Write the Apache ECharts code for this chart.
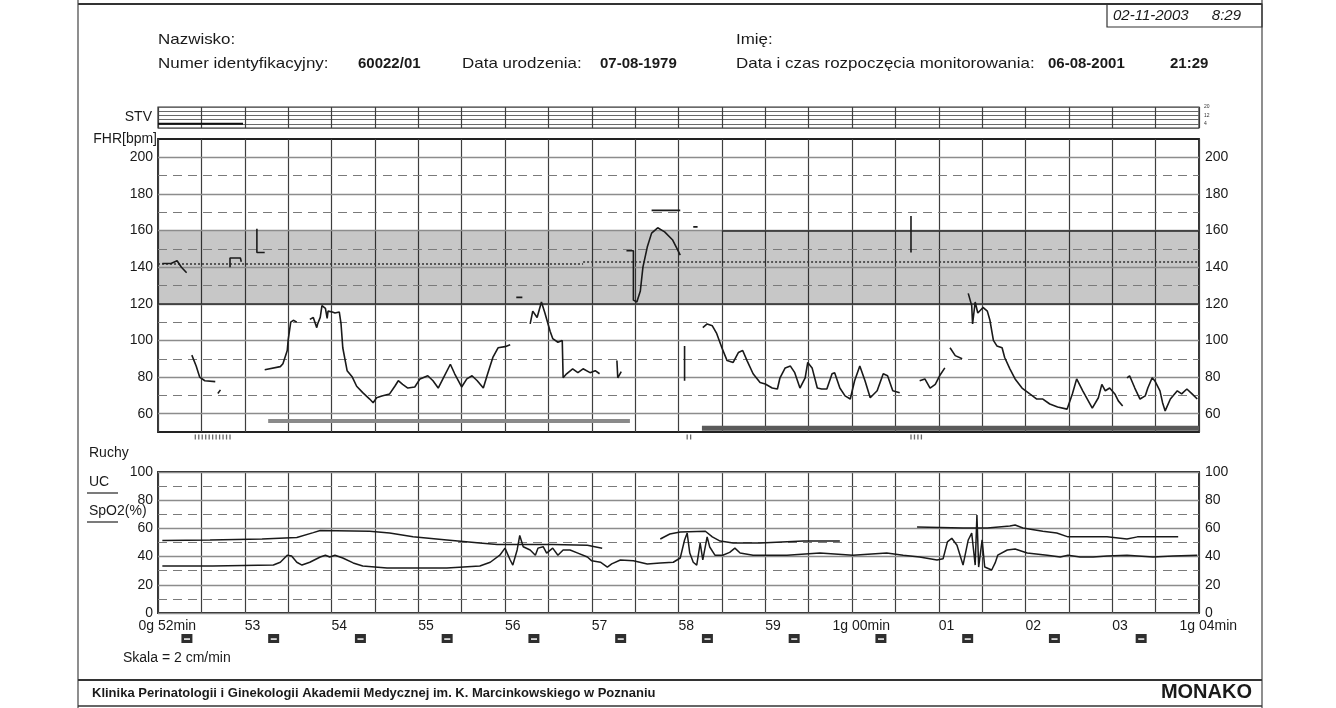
<!DOCTYPE html>
<html>
<head>
<meta charset="utf-8">
<script src="https://cdn.jsdelivr.net/npm/echarts@6/dist/echarts.min.js"></script>
<style>
  html, body { margin: 0; padding: 0; background: #ffffff; }
  #chart { width: 1336px; height: 708px; }
</style>
</head>
<body>
<div id="chart"></div>
<script>
// Time is measured in minutes from 0g 52min (recording window 12 min).
const minuteLabels = ['52min', '53', '54', '55', '56', '57', '58', '59', '00min', '01', '02', '03', '04min'];
const hourLabels   = ['0g ', '', '', '', '', '', '', '', '1g ', '', '', '', '1g '];

// FHR scale [bpm]
const fhrMajor = [60, 80, 100, 120, 140, 160, 180, 200];
const fhrMinor = [70, 90, 110, 130, 150, 170, 190];
const fhrBand = [120, 160];
const fhrBaselineEarly = 141.8;
const fhrBaselineLate = 143;

// UC / SpO2 scale
const ucMajor = [0, 20, 40, 60, 80, 100];
const ucMinor = [10, 30, 50, 70, 90];

// STV strip
const stvLine = [[0, 4], [0.98, 4]];

// FHR trace, one array per uninterrupted piece of signal
const fhrSegments = [
  [[0.05, 142], [0.15, 142], [0.22, 143.5], [0.27, 140], [0.33, 137]],
  [[0.83, 140], [0.83, 145], [0.95, 145], [0.96, 143]],
  [[1.14, 161], [1.14, 148], [1.23, 148]],
  [[0.39, 92], [0.44, 86], [0.48, 80], [0.54, 78], [0.66, 77.5]],
  [[0.69, 71], [0.72, 73]],
  [[1.23, 84], [1.41, 85.7], [1.44, 87.3], [1.49, 94.5], [1.50, 100], [1.53, 110], [1.56, 111], [1.60, 110]],
  [[1.75, 111.5], [1.79, 112.5], [1.83, 107], [1.84, 109], [1.87, 112.6], [1.89, 119], [1.93, 117.5], [1.95, 112],
   [1.96, 116], [2.01, 115.5], [2.04, 115], [2.09, 115.5], [2.11, 109], [2.13, 96], [2.18, 83.5], [2.24, 80],
   [2.29, 75], [2.36, 71.5], [2.44, 68], [2.48, 66], [2.52, 68.7], [2.58, 69.7], [2.67, 70.8], [2.73, 75],
   [2.77, 78], [2.82, 76], [2.88, 74], [2.96, 74.6], [3.02, 79], [3.11, 80.7], [3.17, 78], [3.23, 74],
   [3.29, 79.6], [3.37, 87], [3.42, 81.8], [3.50, 74.6], [3.56, 79], [3.62, 80.7], [3.68, 78], [3.75, 74],
   [3.80, 81.8], [3.86, 90.7], [3.92, 96], [4.00, 96.6], [4.06, 97.7]],
  [[4.13, 123.5], [4.20, 123.5]],
  [[4.29, 109], [4.32, 116], [4.37, 112.5], [4.42, 121], [4.46, 115], [4.52, 105], [4.55, 101], [4.61, 99],
   [4.66, 100], [4.67, 79.6], [4.71, 81.8], [4.78, 84.5], [4.84, 82.4], [4.90, 84.5], [4.98, 82.4], [5.04, 83.5], [5.09, 81.8]],
  [[5.29, 89], [5.30, 79.6], [5.34, 83]],
  [[5.40, 149], [5.48, 149], [5.48, 122], [5.52, 121], [5.56, 127], [5.59, 140], [5.64, 151], [5.69, 158.6],
   [5.76, 161.5], [5.84, 159.3], [5.93, 155], [5.98, 150.4], [6.02, 146.6]],
  [[5.69, 171], [6.02, 171]],
  [[6.17, 162], [6.22, 162]],
  [[6.07, 97], [6.07, 78]],
  [[6.28, 107], [6.33, 109], [6.39, 108], [6.44, 103.8], [6.50, 96], [6.56, 89], [6.63, 88], [6.69, 93.4],
   [6.74, 94.5], [6.79, 89], [6.86, 81.8], [6.94, 77], [7.00, 76.2], [7.08, 74], [7.14, 73.5], [7.17, 79.6],
   [7.23, 85], [7.29, 86], [7.34, 82.4], [7.40, 74], [7.46, 79.6], [7.49, 88], [7.54, 85], [7.60, 74],
   [7.65, 73.5], [7.71, 73.5], [7.77, 81.8], [7.80, 82.4], [7.86, 74], [7.92, 69.7], [7.98, 68], [8.03, 78],
   [8.09, 86], [8.15, 78], [8.21, 68.7], [8.29, 72.5], [8.36, 81.8], [8.41, 80.7], [8.47, 72.5], [8.55, 71.4]],
  [[8.68, 168], [8.68, 148]],
  [[8.78, 78], [8.84, 79], [8.90, 74], [8.96, 76], [9.01, 80.7], [9.07, 85]],
  [[9.13, 96], [9.19, 91.7], [9.27, 90]],
  [[9.34, 125.7], [9.38, 119], [9.39, 109], [9.42, 121], [9.45, 115], [9.51, 118], [9.56, 116], [9.59, 111],
   [9.63, 100], [9.67, 97], [9.73, 96], [9.76, 90.7], [9.82, 84.5], [9.88, 79], [9.96, 74], [10.05, 70.8],
   [10.13, 68], [10.20, 68], [10.28, 65.3], [10.37, 63.7], [10.48, 62.5], [10.54, 70.8], [10.59, 79], [10.66, 72.5],
   [10.77, 63], [10.84, 68.7], [10.88, 76], [10.92, 72.5], [10.97, 74], [11.03, 70.8], [11.07, 67], [11.12, 64.2]],
  [[11.17, 79.6], [11.20, 80.7], [11.26, 74], [11.32, 68], [11.38, 69.7], [11.41, 74], [11.46, 79.6], [11.49, 78],
   [11.55, 72.5], [11.58, 66], [11.61, 61.5], [11.67, 68], [11.75, 72.5], [11.80, 70.8], [11.86, 73.5], [11.92, 70.8], [11.98, 68]]
];

// Signal-quality bars drawn at the foot of the FHR panel: [start, end, level]
const qualityBars = [[1.27, 5.44, 56], [6.27, 12, 52]];

// Fetal movement marks ("Ruchy")
const movementTimes = [0.43, 0.47, 0.51, 0.55, 0.59, 0.63, 0.67, 0.71, 0.75, 0.79, 0.83, 6.10, 6.14, 8.68, 8.72, 8.76, 8.80];

// SpO2 trace, pieces
const spo2Segments = [
  [[0.05, 51.5], [0.6, 51.8], [1.2, 52.5], [1.60, 53.5], [1.79, 57], [1.87, 58.5], [2.44, 58], [2.67, 56.7],
   [2.94, 54], [3.33, 51.8], [3.71, 49.6], [3.91, 48.5], [4.17, 48.5], [4.55, 48.5], [4.95, 48], [5.12, 46]],
  [[5.79, 52.5], [5.90, 56], [6.02, 57.4], [6.31, 58], [6.39, 54], [6.48, 51], [6.63, 49.6], [6.94, 49.6], [7.44, 51], [7.86, 51]],
  [[8.75, 61], [9.28, 60.3], [9.56, 60.3], [9.82, 61.7], [9.88, 62.4], [9.97, 60.3], [10.20, 58], [10.36, 56.7],
   [10.49, 54], [10.94, 54], [11.17, 52.5], [11.29, 54], [11.76, 54]]
];

// UC trace
const ucTrace = [
  [0.05, 33.3], [0.63, 33.3], [1.33, 34], [1.41, 36], [1.49, 41], [1.54, 40.4], [1.60, 36], [1.66, 34], [1.75, 36],
  [1.87, 39.7], [1.93, 41], [1.98, 39.7], [2.04, 41], [2.13, 39], [2.25, 35.5], [2.36, 33.3], [2.64, 32], [3.33, 32],
  [3.71, 33.3], [3.83, 36], [3.94, 41], [4.00, 46], [4.06, 37.6], [4.09, 34], [4.14, 44.7], [4.17, 55], [4.21, 47],
  [4.29, 44.7], [4.35, 41], [4.38, 46], [4.44, 47], [4.48, 42.5], [4.55, 46], [4.61, 41], [4.67, 44.7], [4.75, 44.7],
  [4.84, 42.5], [4.95, 39.7], [5.00, 37], [5.10, 36], [5.18, 32.6], [5.23, 34.8], [5.33, 37.6], [5.48, 37], [5.64, 34.8],
  [5.79, 35.5], [5.94, 36], [6.02, 39], [6.07, 51.8], [6.10, 56.7], [6.13, 42.5], [6.17, 36], [6.21, 34], [6.25, 49.6],
  [6.28, 37.6], [6.33, 54], [6.36, 46.8], [6.42, 41], [6.51, 41], [6.59, 43], [6.65, 46], [6.71, 42.5], [6.86, 41],
  [7.25, 41], [7.63, 42.5], [8.01, 41], [8.40, 42.5], [8.59, 41], [8.78, 39.7], [8.98, 37.6], [9.05, 38.5], [9.10, 50.4],
  [9.15, 53], [9.21, 48], [9.28, 34], [9.34, 51.8], [9.38, 56.7], [9.42, 34], [9.44, 69.5], [9.46, 32.6], [9.50, 51.8],
  [9.53, 32.6], [9.61, 30.5], [9.65, 35.5], [9.68, 41], [9.79, 44.7], [9.88, 45.4], [10.02, 42.5], [10.25, 41],
  [10.40, 39.7], [10.49, 41], [10.63, 39.7], [10.78, 39.7], [10.94, 40.4], [11.17, 41], [11.47, 39.7], [11.70, 40.4], [11.98, 41]
];

const FONT = '"Liberation Sans", Arial, sans-serif';
const INK = '#1a1a1a';

const chart = echarts.init(document.getElementById('chart'), null, { renderer: 'canvas' });

const vGrid = { show: true, lineStyle: { color: '#3e3e3e', width: 1.2 } };

function timeAxis(gridIndex, extra) {
  return Object.assign({
    type: 'value', gridIndex, position: 'bottom', offset: 0, min: 0, max: 12, interval: 0.5,
    axisLine: { show: false }, axisTick: { show: false },
    axisLabel: { show: false }, splitLine: vGrid
  }, extra || {});
}

function hLines(major, minor, extraLines) {
  const data = [];
  major.forEach(v => data.push({ yAxis: v, lineStyle: { color: '#8c8c8c', width: 1.3, type: 'solid' } }));
  minor.forEach(v => data.push({ yAxis: v, lineStyle: { color: '#7a7a7a', width: 1.2, type: [9, 6] } }));
  return { symbol: ['none', 'none'], silent: true, label: { show: false }, animation: false, data: data.concat(extraLines || []) };
}

const series = [];

// FHR panel background: normal band and grid lines
series.push({
  type: 'line', xAxisIndex: 1, yAxisIndex: 1, data: [[0, 50], [12, 50]], symbol: 'none',
  lineStyle: { opacity: 0 }, silent: true, z: 1, animation: false,
  markArea: { silent: true, itemStyle: { color: 'rgba(0,0,0,0.22)' }, data: [[{ yAxis: fhrBand[0] }, { yAxis: fhrBand[1] }]] },
  markLine: hLines(fhrMajor, fhrMinor, [
    { yAxis: fhrBand[0], lineStyle: { color: '#2a2a2a', width: 1.6, type: 'solid' } },
    [{ coord: [6.5, fhrBand[1]], lineStyle: { color: '#2a2a2a', width: 1.6, type: 'solid' } }, { coord: [12, fhrBand[1]] }],
    [{ coord: [0, fhrBaselineEarly], lineStyle: { color: '#333', width: 1.5, type: [2, 2] } }, { coord: [4.9, fhrBaselineEarly] }],
    [{ coord: [4.9, fhrBaselineLate], lineStyle: { color: '#333', width: 1.5, type: [2, 2] } }, { coord: [12, fhrBaselineLate] }]
  ])
});

fhrSegments.forEach(seg => series.push({
  type: 'line', xAxisIndex: 1, yAxisIndex: 1, data: seg, symbol: 'none', silent: true, z: 5, animation: false,
  lineStyle: { color: INK, width: 1.6 }
}));

qualityBars.forEach((b, i) => series.push({
  type: 'line', xAxisIndex: 1, yAxisIndex: 1, data: [[b[0], b[2]], [b[1], b[2]]], symbol: 'none', silent: true, z: 4,
  animation: false, lineStyle: { color: i === 0 ? '#8a8a8a' : '#5a5a5a', width: i === 0 ? 4 : 5 }
}));

// STV strip
series.push({
  type: 'line', xAxisIndex: 0, yAxisIndex: 0, data: stvLine, symbol: 'none', silent: true, z: 5, animation: false,
  lineStyle: { color: '#111', width: 2 }
});

// movements
series.push({
  type: 'scatter', xAxisIndex: 2, yAxisIndex: 3, data: movementTimes.map(t => [t, 0.5]), symbol: 'rect',
  symbolSize: [1.3, 5], itemStyle: { color: '#444' }, silent: true, animation: false
});

// UC panel grid lines
series.push({
  type: 'line', xAxisIndex: 3, yAxisIndex: 4, data: [[0, 0], [12, 0]], symbol: 'none',
  lineStyle: { opacity: 0 }, silent: true, z: 1, animation: false,
  markLine: hLines(ucMajor, ucMinor)
});

spo2Segments.forEach(seg => series.push({
  type: 'line', xAxisIndex: 3, yAxisIndex: 4, data: seg, symbol: 'none', silent: true, z: 5, animation: false,
  lineStyle: { color: INK, width: 1.5 }
}));

series.push({
  type: 'line', xAxisIndex: 3, yAxisIndex: 4, data: ucTrace, symbol: 'none', silent: true, z: 5, animation: false,
  lineStyle: { color: INK, width: 1.5 }
});

const axisLabelStyle = { color: INK, fontFamily: FONT, fontSize: 14 };

function headerText(x, y, text, bold) {
  return {
    type: 'text', x, y, scaleX: bold ? 1 : 1.13,
    style: { text, font: (bold ? 'bold ' : '') + '15px ' + FONT, fill: INK, verticalAlign: 'middle' }
  };
}

const option = {
  backgroundColor: '#ffffff',
  animation: false,
  textStyle: { fontFamily: FONT },
  grid: [
    { left: 158, width: 1041, top: 107, height: 21, show: true, borderColor: '#333', borderWidth: 1.2, backgroundColor: 'transparent' },
    { left: 158, width: 1041, top: 139, height: 293, show: true, borderColor: '#222', borderWidth: 1.8, backgroundColor: 'transparent' },
    { left: 158, width: 1041, top: 433, height: 8, show: false },
    { left: 158, width: 1041, top: 472, height: 141, show: true, borderColor: '#222', borderWidth: 1.8, backgroundColor: 'transparent' }
  ],
  xAxis: [
    timeAxis(0),
    timeAxis(1),
    timeAxis(2, { splitLine: { show: false } }),
    timeAxis(3, {
      axisLabel: Object.assign({ show: true, align: 'left', margin: 6,
        formatter: v => Number.isInteger(v) ? minuteLabels[v] : '' }, axisLabelStyle)
    }),
    timeAxis(3, {
      splitLine: { show: false },
      axisLabel: Object.assign({ show: true, align: 'right', margin: 6,
        formatter: v => Number.isInteger(v) ? hourLabels[v] : '' }, axisLabelStyle)
    }),
    {
      type: 'value', gridIndex: 3, position: 'bottom', offset: 0, min: 0, max: 720, interval: 20,
      axisLine: { show: false }, axisTick: { show: false }, splitLine: { show: false },
      axisLabel: {
        show: true, margin: 21,
        formatter: v => (v % 60 === 20) ? '{sq|▬}' : '',
        rich: { sq: { backgroundColor: '#2e2e2e', color: '#d8d8d8', width: 11, height: 9, lineHeight: 9, fontSize: 6, align: 'center' } }
      }
    }
  ],
  yAxis: [
    {
      type: 'value', gridIndex: 0, min: 0, max: 20, interval: 4, position: 'right',
      axisLine: { show: false }, axisTick: { show: false },
      splitLine: { show: true, lineStyle: { color: '#6a6a6a', width: 1 } },
      axisLabel: { show: true, margin: 5, fontSize: 5, color: '#333', formatter: v => (v === 20 || v === 12 || v === 4) ? String(v) : '' }
    },
    {
      type: 'value', gridIndex: 1, min: 50, max: 210, interval: 10, position: 'left',
      axisLine: { show: false }, axisTick: { show: false }, splitLine: { show: false },
      axisLabel: Object.assign({ margin: 5, formatter: v => fhrMajor.includes(v) ? String(v) : '' }, axisLabelStyle)
    },
    {
      type: 'value', gridIndex: 1, min: 50, max: 210, interval: 10, position: 'right',
      axisLine: { show: false }, axisTick: { show: false }, splitLine: { show: false },
      axisLabel: Object.assign({ margin: 6, formatter: v => fhrMajor.includes(v) ? String(v) : '' }, axisLabelStyle)
    },
    { type: 'value', gridIndex: 2, min: 0, max: 1, show: false },
    {
      type: 'value', gridIndex: 3, min: 0, max: 100, interval: 10, position: 'left',
      axisLine: { show: false }, axisTick: { show: false }, splitLine: { show: false },
      axisLabel: Object.assign({ margin: 5, formatter: v => ucMajor.includes(v) ? String(v) : '' }, axisLabelStyle)
    },
    {
      type: 'value', gridIndex: 3, min: 0, max: 100, interval: 10, position: 'right',
      axisLine: { show: false }, axisTick: { show: false }, splitLine: { show: false },
      axisLabel: Object.assign({ margin: 6, formatter: v => ucMajor.includes(v) ? String(v) : '' }, axisLabelStyle)
    }
  ],
  series,
  graphic: [
    // page frame
    { type: 'line', shape: { x1: 78, y1: 4, x2: 1262, y2: 4 }, style: { stroke: '#333', lineWidth: 2 }, silent: true },
    { type: 'line', shape: { x1: 78, y1: 0, x2: 78, y2: 708 }, style: { stroke: '#444', lineWidth: 1.2 }, silent: true },
    { type: 'line', shape: { x1: 1262, y1: 0, x2: 1262, y2: 708 }, style: { stroke: '#444', lineWidth: 1.2 }, silent: true },
    { type: 'line', shape: { x1: 78, y1: 680, x2: 1262, y2: 680 }, style: { stroke: '#333', lineWidth: 2 }, silent: true },
    { type: 'line', shape: { x1: 78, y1: 706, x2: 1262, y2: 706 }, style: { stroke: '#333', lineWidth: 1.5 }, silent: true },
    // print date box
    { type: 'rect', shape: { x: 1107, y: 4, width: 155, height: 23 }, style: { fill: 'none', stroke: '#333', lineWidth: 1.2 }, silent: true },
    { type: 'text', x: 1113, y: 16, style: { text: '02-11-2003', font: 'italic 15px ' + FONT, fill: INK, verticalAlign: 'middle' } },
    { type: 'text', x: 1241, y: 16, style: { text: '8:29', font: 'italic 15px ' + FONT, fill: INK, align: 'right', verticalAlign: 'middle' } },
    // patient header
    headerText(158, 40, 'Nazwisko:'),
    headerText(736, 40, 'Imię:'),
    headerText(158, 64, 'Numer identyfikacyjny:'),
    headerText(358, 64, '60022/01', true),
    headerText(462, 64, 'Data urodzenia:'),
    headerText(600, 64, '07-08-1979', true),
    headerText(736, 64, 'Data i czas rozpoczęcia monitorowania:'),
    headerText(1048, 64, '06-08-2001', true),
    headerText(1170, 64, '21:29', true),
    // panel captions
    { type: 'text', x: 152, y: 117, style: { text: 'STV', font: '14px ' + FONT, fill: INK, align: 'right', verticalAlign: 'middle' } },
    { type: 'text', x: 157, y: 139, style: { text: 'FHR[bpm]', font: '14px ' + FONT, fill: INK, align: 'right', verticalAlign: 'middle' } },
    { type: 'text', x: 89, y: 453, style: { text: 'Ruchy', font: '14px ' + FONT, fill: INK, verticalAlign: 'middle' } },
    { type: 'text', x: 89, y: 482, style: { text: 'UC', font: '14px ' + FONT, fill: INK, verticalAlign: 'middle' } },
    { type: 'line', shape: { x1: 87, y1: 493, x2: 118, y2: 493 }, style: { stroke: '#333', lineWidth: 1.3 }, silent: true },
    { type: 'text', x: 89, y: 511, style: { text: 'SpO2(%)', font: '14px ' + FONT, fill: INK, verticalAlign: 'middle' } },
    { type: 'line', shape: { x1: 87, y1: 522, x2: 118, y2: 522 }, style: { stroke: '#333', lineWidth: 1.3 }, silent: true },
    { type: 'text', x: 123, y: 658, style: { text: 'Skala = 2 cm/min', font: '14px ' + FONT, fill: INK, verticalAlign: 'middle' } },
    // footer
    { type: 'text', x: 92, y: 693, style: { text: 'Klinika Perinatologii i Ginekologii Akademii Medycznej im. K. Marcinkowskiego w Poznaniu', font: 'bold 13px ' + FONT, fill: INK, verticalAlign: 'middle' } },
    { type: 'text', x: 1252, y: 692, style: { text: 'MONAKO', font: 'bold 20px ' + FONT, fill: INK, align: 'right', verticalAlign: 'middle' } }
  ]
};

chart.setOption(option);
</script>
</body>
</html>
